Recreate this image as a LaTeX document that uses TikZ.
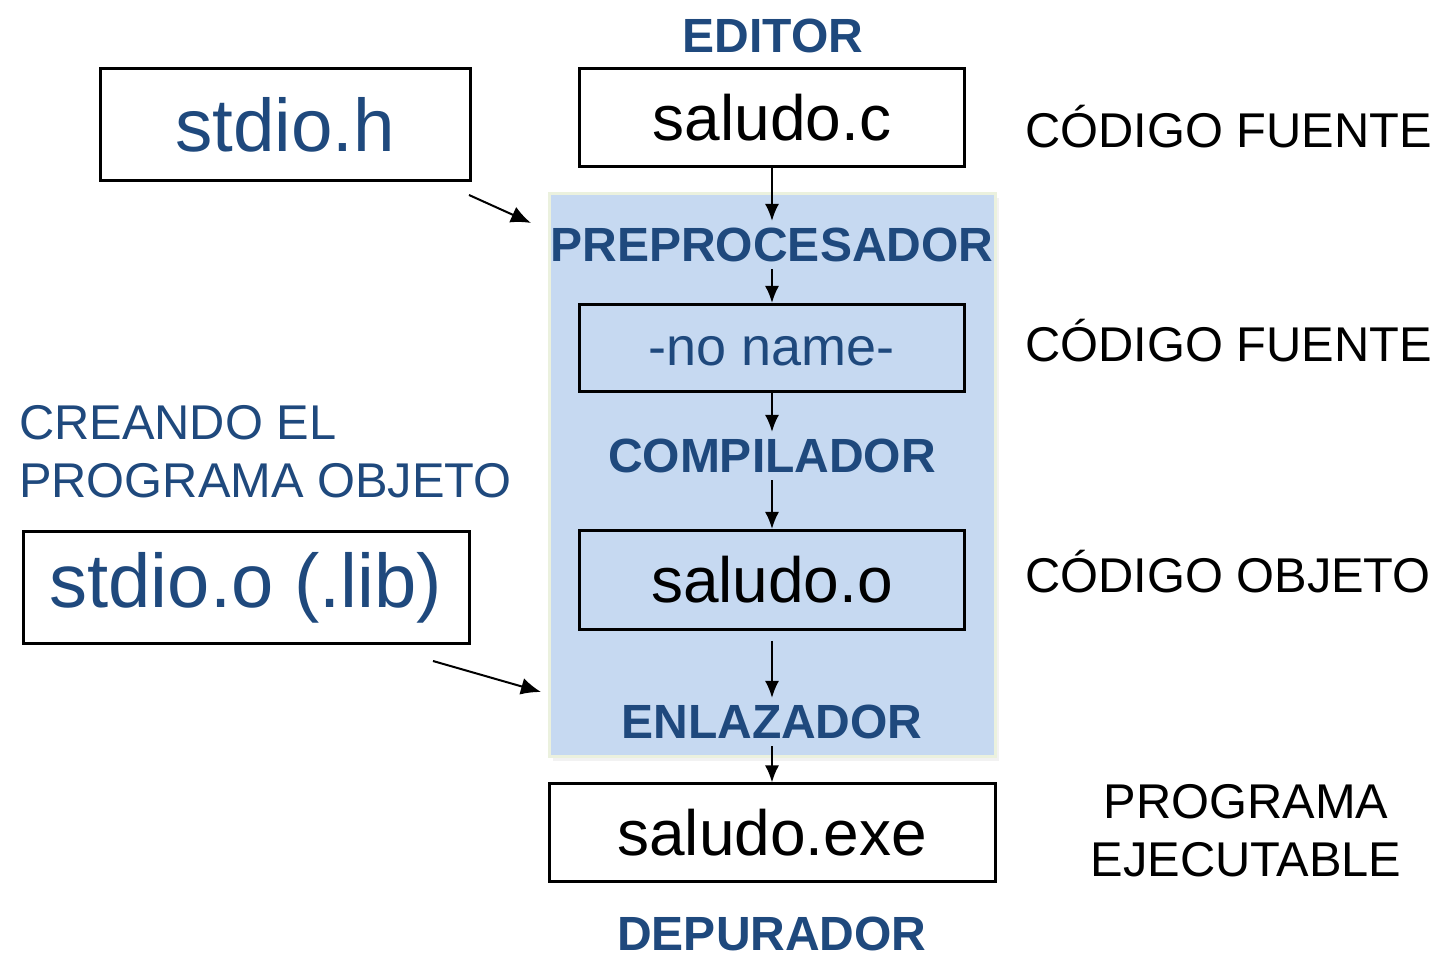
\documentclass[tikz,border=0pt]{standalone}
\usepackage{fontspec}
\setmainfont{Liberation Sans}
\usetikzlibrary{arrows.meta}

\definecolor{titleblue}{HTML}{1F497D}
\definecolor{panelblue}{HTML}{C6D9F1}
\definecolor{panelrim}{HTML}{EBF1DE}

\tikzset{
  stage/.style={font=\fontsize{24pt}{28pt}\selectfont\bfseries, text=titleblue},
  note/.style={font=\fontsize{24.4pt}{29pt}\selectfont, align=center},
  filebox/.style={draw, line width=1.5pt, inner sep=0pt,
    font=\fontsize{32pt}{36pt}\selectfont},
  flow/.style={->, line width=1pt}
}

\begin{document}
\begin{tikzpicture}[x=0.5pt, y=-0.5pt, >={Latex[length=8.5pt,width=7pt]}]

  \useasboundingbox (0,0) rectangle (1448,972);

  % compiler panel
  \fill[black!5] (553,198) rectangle (999,761);
  \draw[panelrim, fill=panelblue, line width=1.5pt] (549,194) rectangle (995,757);

  % left column
  \node[filebox, text=titleblue, minimum width=185pt, minimum height=56pt,
        font=\fontsize{37.3pt}{40pt}\selectfont] (hdr) at (285,125) {stdio.h};
  \node[note, text=titleblue, align=left, anchor=north west] (crea) at (12,398)
        {CREANDO EL\\PROGRAMA OBJETO};
  \node[filebox, text=titleblue, minimum width=223pt, minimum height=56pt,
        font=\fontsize{38pt}{40pt}\selectfont] (lib) at (246,588) {stdio.o (.lib)};

  % main chain
  \node[stage] (edit) at (773,36) {EDITOR};
  \node[filebox, minimum width=192.5pt, minimum height=49pt] (src) at (772,118) {saludo.c};
  \node[stage] (pre) at (772,245) {PREPROCESADOR};
  \node[filebox, text=titleblue, minimum width=192.5pt, minimum height=43.5pt,
        text height=18pt, text depth=0pt,
        font=\fontsize{27pt}{30pt}\selectfont] (tmp) at (772,348) {-no name-};
  \node[stage] (comp) at (772,456) {COMPILADOR};
  \node[filebox, minimum width=192.5pt, minimum height=49.5pt] (obj) at (772,580) {saludo.o};
  \node[stage] (link) at (772,722) {ENLAZADOR};
  \node[filebox, minimum width=223pt, minimum height=49pt] (exe) at (772,833) {saludo.exe};
  \node[stage] (dbg) at (772,934) {DEPURADOR};

  % right column
  \node[note, anchor=west] (cf1) at (1018,127) {CÓDIGO FUENTE};
  \node[note, anchor=west] (cf2) at (1018,341) {CÓDIGO FUENTE};
  \node[note, anchor=west] (co) at (1018,572) {CÓDIGO OBJETO};
  \node[note] (pe) at (1246,831) {PROGRAMA\\EJECUTABLE};

  % arrows
  \draw[flow] (src) -- (pre);
  \draw[flow] (pre) -- (tmp);
  \draw[flow] (tmp) -- (comp);
  \draw[flow] (comp) -- (obj);
  \draw[flow, shorten <=5pt] (obj) -- (link);
  \draw[flow] (link) -- (exe);

  \coordinate (hdrout) at (469,195);
  \coordinate (hdrin) at (531,223);
  \draw[flow, >={Latex[length=10pt,width=8.5pt]}] (hdrout) -- (hdrin);
  \coordinate (libout) at (433,661);
  \coordinate (libin) at (541,692);
  \draw[flow, >={Latex[length=10pt,width=8.5pt]}] (libout) -- (libin);

\end{tikzpicture}
\end{document}
